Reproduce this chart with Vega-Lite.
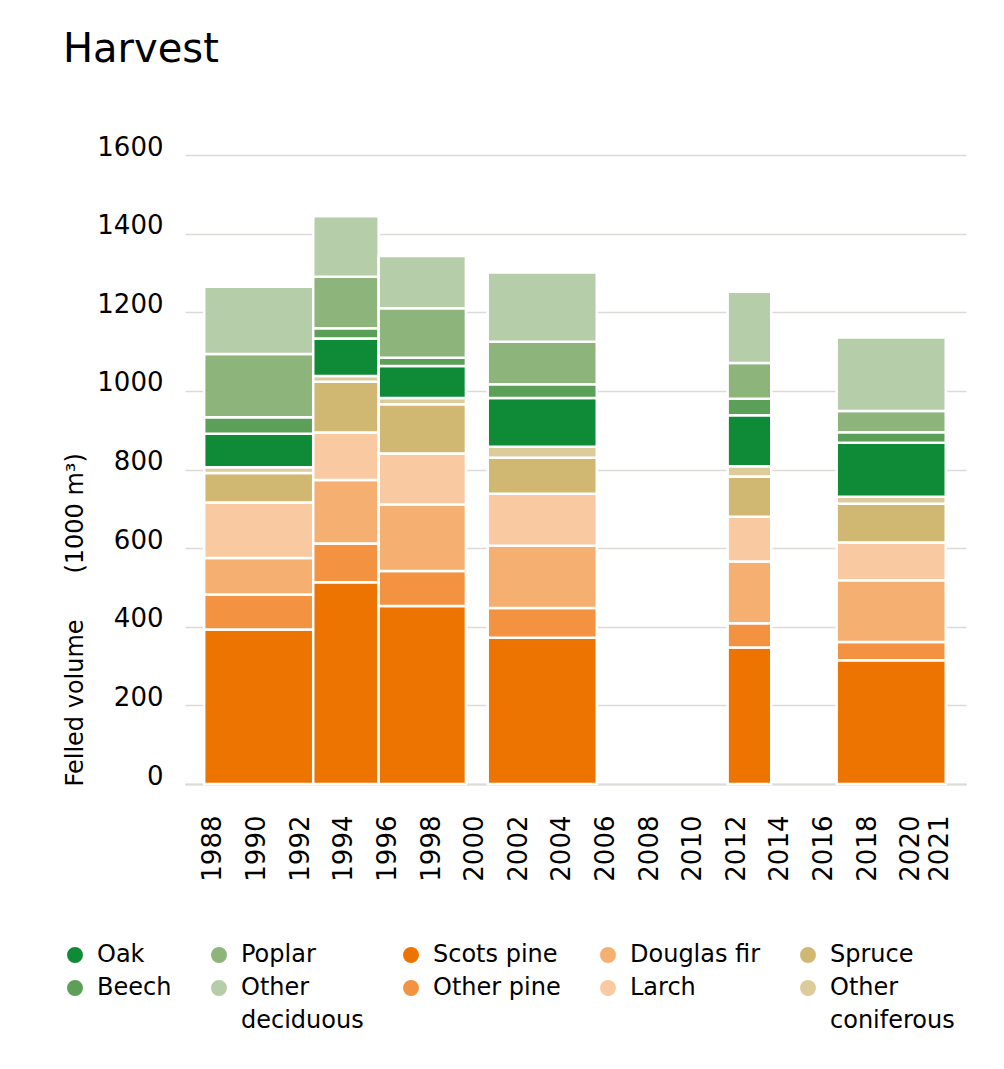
{
  "$schema": "https://vega.github.io/schema/vega-lite/v6.json",
  "autosize": "none",
  "width": 781,
  "height": 629,
  "padding": {"left": 185, "top": 155, "right": 38, "bottom": 285},
  "background": "white",
  "config": {
    "font": "DejaVu Sans",
    "view": {"stroke": null},
    "style": {"guide-label": {"lineHeight": 33}}
  },
  "title": {
    "text": "Harvest",
    "anchor": "start",
    "fontSize": 40,
    "fontWeight": "normal",
    "color": "#000",
    "dx": 0,
    "dy": -60
  },
  "data": {
    "values": [
      {"from": 1988, "to": 1993, "species": "Scots pine", "rank": 1, "volume": 393},
      {"from": 1988, "to": 1993, "species": "Other pine", "rank": 2, "volume": 89},
      {"from": 1988, "to": 1993, "species": "Douglas fir", "rank": 3, "volume": 93},
      {"from": 1988, "to": 1993, "species": "Larch", "rank": 4, "volume": 141},
      {"from": 1988, "to": 1993, "species": "Spruce", "rank": 5, "volume": 75},
      {"from": 1988, "to": 1993, "species": "Other coniferous", "rank": 6, "volume": 15},
      {"from": 1988, "to": 1993, "species": "Oak", "rank": 7, "volume": 85},
      {"from": 1988, "to": 1993, "species": "Beech", "rank": 8, "volume": 42},
      {"from": 1988, "to": 1993, "species": "Poplar", "rank": 9, "volume": 161},
      {"from": 1988, "to": 1993, "species": "Other deciduous", "rank": 10, "volume": 171},

      {"from": 1993, "to": 1996, "species": "Scots pine", "rank": 1, "volume": 513},
      {"from": 1993, "to": 1996, "species": "Other pine", "rank": 2, "volume": 99},
      {"from": 1993, "to": 1996, "species": "Douglas fir", "rank": 3, "volume": 161},
      {"from": 1993, "to": 1996, "species": "Larch", "rank": 4, "volume": 121},
      {"from": 1993, "to": 1996, "species": "Spruce", "rank": 5, "volume": 129},
      {"from": 1993, "to": 1996, "species": "Other coniferous", "rank": 6, "volume": 15},
      {"from": 1993, "to": 1996, "species": "Oak", "rank": 7, "volume": 95},
      {"from": 1993, "to": 1996, "species": "Beech", "rank": 8, "volume": 26},
      {"from": 1993, "to": 1996, "species": "Poplar", "rank": 9, "volume": 131},
      {"from": 1993, "to": 1996, "species": "Other deciduous", "rank": 10, "volume": 154},

      {"from": 1996, "to": 2000, "species": "Scots pine", "rank": 1, "volume": 453},
      {"from": 1996, "to": 2000, "species": "Other pine", "rank": 2, "volume": 89},
      {"from": 1996, "to": 2000, "species": "Douglas fir", "rank": 3, "volume": 169},
      {"from": 1996, "to": 2000, "species": "Larch", "rank": 4, "volume": 130},
      {"from": 1996, "to": 2000, "species": "Spruce", "rank": 5, "volume": 125},
      {"from": 1996, "to": 2000, "species": "Other coniferous", "rank": 6, "volume": 16},
      {"from": 1996, "to": 2000, "species": "Oak", "rank": 7, "volume": 81},
      {"from": 1996, "to": 2000, "species": "Beech", "rank": 8, "volume": 21},
      {"from": 1996, "to": 2000, "species": "Poplar", "rank": 9, "volume": 126},
      {"from": 1996, "to": 2000, "species": "Other deciduous", "rank": 10, "volume": 133},

      {"from": 2001, "to": 2006, "species": "Scots pine", "rank": 1, "volume": 372},
      {"from": 2001, "to": 2006, "species": "Other pine", "rank": 2, "volume": 76},
      {"from": 2001, "to": 2006, "species": "Douglas fir", "rank": 3, "volume": 158},
      {"from": 2001, "to": 2006, "species": "Larch", "rank": 4, "volume": 132},
      {"from": 2001, "to": 2006, "species": "Spruce", "rank": 5, "volume": 92},
      {"from": 2001, "to": 2006, "species": "Other coniferous", "rank": 6, "volume": 28},
      {"from": 2001, "to": 2006, "species": "Oak", "rank": 7, "volume": 124},
      {"from": 2001, "to": 2006, "species": "Beech", "rank": 8, "volume": 35},
      {"from": 2001, "to": 2006, "species": "Poplar", "rank": 9, "volume": 108},
      {"from": 2001, "to": 2006, "species": "Other deciduous", "rank": 10, "volume": 176},

      {"from": 2012, "to": 2014, "species": "Scots pine", "rank": 1, "volume": 347},
      {"from": 2012, "to": 2014, "species": "Other pine", "rank": 2, "volume": 62},
      {"from": 2012, "to": 2014, "species": "Douglas fir", "rank": 3, "volume": 157},
      {"from": 2012, "to": 2014, "species": "Larch", "rank": 4, "volume": 114},
      {"from": 2012, "to": 2014, "species": "Spruce", "rank": 5, "volume": 102},
      {"from": 2012, "to": 2014, "species": "Other coniferous", "rank": 6, "volume": 26},
      {"from": 2012, "to": 2014, "species": "Oak", "rank": 7, "volume": 130},
      {"from": 2012, "to": 2014, "species": "Beech", "rank": 8, "volume": 42},
      {"from": 2012, "to": 2014, "species": "Poplar", "rank": 9, "volume": 91},
      {"from": 2012, "to": 2014, "species": "Other deciduous", "rank": 10, "volume": 181},

      {"from": 2017, "to": 2022, "species": "Scots pine", "rank": 1, "volume": 315},
      {"from": 2017, "to": 2022, "species": "Other pine", "rank": 2, "volume": 46},
      {"from": 2017, "to": 2022, "species": "Douglas fir", "rank": 3, "volume": 157},
      {"from": 2017, "to": 2022, "species": "Larch", "rank": 4, "volume": 96},
      {"from": 2017, "to": 2022, "species": "Spruce", "rank": 5, "volume": 99},
      {"from": 2017, "to": 2022, "species": "Other coniferous", "rank": 6, "volume": 18},
      {"from": 2017, "to": 2022, "species": "Oak", "rank": 7, "volume": 137},
      {"from": 2017, "to": 2022, "species": "Beech", "rank": 8, "volume": 27},
      {"from": 2017, "to": 2022, "species": "Poplar", "rank": 9, "volume": 54},
      {"from": 2017, "to": 2022, "species": "Other deciduous", "rank": 10, "volume": 187}
    ]
  },
  "mark": {"type": "bar", "stroke": "white", "strokeWidth": 2.5},
  "encoding": {
    "x": {
      "field": "from",
      "type": "quantitative",
      "scale": {"domain": [1987.35, 2022.7], "nice": false, "zero": false},
      "axis": {
        "title": null,
        "values": [1988.4, 1990.4, 1992.4, 1994.4, 1996.4, 1998.4, 2000.4, 2002.4, 2004.4, 2006.4, 2008.4, 2010.4, 2012.4, 2014.4, 2016.4, 2018.4, 2020.4, 2021.7],
        "labelExpr": "floor(datum.value)",
        "labelAngle": 270,
        "labelAlign": "right",
        "labelBaseline": "middle",
        "labelPadding": 31,
        "labelFontSize": 26,
        "labelColor": "#000",
        "labelOverlap": false,
        "ticks": false,
        "grid": false,
        "domainColor": "#dedad6",
        "domainWidth": 2
      }
    },
    "x2": {"field": "to"},
    "y": {
      "aggregate": "sum",
      "field": "volume",
      "type": "quantitative",
      "stack": "zero",
      "scale": {"domain": [0, 1600], "nice": false},
      "axis": {
        "title": "Felled volume\u00a0\u00a0\u00a0\u00a0\u00a0\u00a0(1000 m³)",
        "titleFontSize": 24,
        "titleFontWeight": "normal",
        "titleColor": "#000",
        "titleAngle": 270,
        "titleAlign": "left",
        "titleBaseline": "middle",
        "titleX": -110,
        "titleY": 631,
        "values": [0, 200, 400, 600, 800, 1000, 1200, 1400, 1600],
        "format": "d",
        "labelFontSize": 26,
        "labelColor": "#000",
        "labelBaseline": "alphabetic",
        "labelPadding": 22,
        "ticks": false,
        "domain": false,
        "gridColor": "#dedad6",
        "gridWidth": 1.5
      }
    },
    "color": {
      "field": "species",
      "type": "nominal",
      "scale": {
        "domain": ["Oak", "Beech", "Poplar", "Other deciduous", "Scots pine", "Other pine", "Douglas fir", "Larch", "Spruce", "Other coniferous"],
        "range": ["#0f8b37", "#5c9f58", "#8db47b", "#b5cda9", "#ee7402", "#f39241", "#f5af70", "#f9caa1", "#d0b872", "#dccc9b"]
      },
      "legend": {
        "title": null,
        "orient": "none",
        "legendX": -122,
        "legendY": 788,
        "columns": 5,
        "columnPadding": 35,
        "rowPadding": 9,
        "symbolType": "circle",
        "symbolSize": 254,
        "symbolStrokeWidth": 0,
        "labelFontSize": 24,
        "labelColor": "#000",
        "labelOffset": 10,
        "labelLimit": 300,
        "labelExpr": "datum.label == 'Other deciduous' ? ['Other', 'deciduous'] : datum.label == 'Other coniferous' ? ['Other', 'coniferous'] : datum.label",
        "encode": {
          "labels": {
            "update": {
              "lineHeight": {"value": 33},
              "dy": {"signal": "datum.label == 'Other deciduous' || datum.label == 'Other coniferous' ? 16.5 : 0"}
            }
          }
        }
      }
    },
    "order": {"field": "rank", "type": "quantitative"}
  }
}
